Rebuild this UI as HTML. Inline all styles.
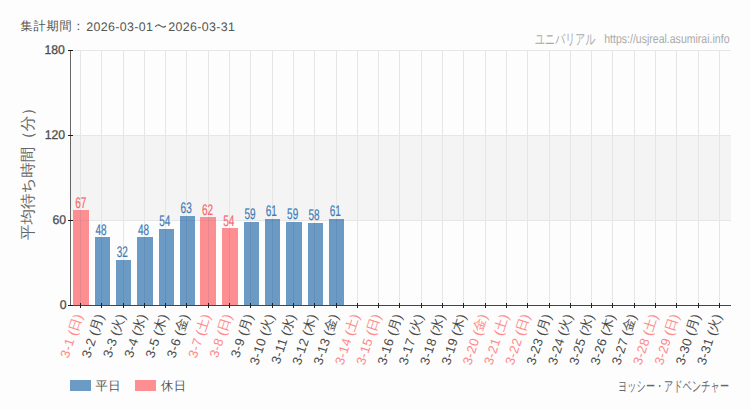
<!DOCTYPE html>
<html lang="ja"><head><meta charset="utf-8"><style>
html,body{margin:0;padding:0;background:#fcfdfc;}
svg{display:block;font-family:"Liberation Sans",sans-serif;text-rendering:geometricPrecision;}
</style></head><body>
<svg width="750" height="410" viewBox="0 0 750 410">
<rect x="0" y="0" width="750" height="410" fill="#fcfdfc"/>
<rect x="71" y="135" width="660" height="85" fill="#f3f4f3"/>
<line x1="73" y1="50.5" x2="731" y2="50.5" stroke="#e6e6e6" stroke-width="1"/>
<line x1="73" y1="135.5" x2="731" y2="135.5" stroke="#e6e6e6" stroke-width="1"/>
<line x1="73" y1="220.5" x2="731" y2="220.5" stroke="#e6e6e6" stroke-width="1"/>
<line x1="80.5" y1="50" x2="80.5" y2="305" stroke="#e6e6e6" stroke-width="1"/>
<line x1="101.5" y1="50" x2="101.5" y2="305" stroke="#e6e6e6" stroke-width="1"/>
<line x1="123.5" y1="50" x2="123.5" y2="305" stroke="#e6e6e6" stroke-width="1"/>
<line x1="144.5" y1="50" x2="144.5" y2="305" stroke="#e6e6e6" stroke-width="1"/>
<line x1="165.5" y1="50" x2="165.5" y2="305" stroke="#e6e6e6" stroke-width="1"/>
<line x1="186.5" y1="50" x2="186.5" y2="305" stroke="#e6e6e6" stroke-width="1"/>
<line x1="208.5" y1="50" x2="208.5" y2="305" stroke="#e6e6e6" stroke-width="1"/>
<line x1="229.5" y1="50" x2="229.5" y2="305" stroke="#e6e6e6" stroke-width="1"/>
<line x1="250.5" y1="50" x2="250.5" y2="305" stroke="#e6e6e6" stroke-width="1"/>
<line x1="272.5" y1="50" x2="272.5" y2="305" stroke="#e6e6e6" stroke-width="1"/>
<line x1="293.5" y1="50" x2="293.5" y2="305" stroke="#e6e6e6" stroke-width="1"/>
<line x1="314.5" y1="50" x2="314.5" y2="305" stroke="#e6e6e6" stroke-width="1"/>
<line x1="336.5" y1="50" x2="336.5" y2="305" stroke="#e6e6e6" stroke-width="1"/>
<line x1="357.5" y1="50" x2="357.5" y2="305" stroke="#e6e6e6" stroke-width="1"/>
<line x1="378.5" y1="50" x2="378.5" y2="305" stroke="#e6e6e6" stroke-width="1"/>
<line x1="399.5" y1="50" x2="399.5" y2="305" stroke="#e6e6e6" stroke-width="1"/>
<line x1="421.5" y1="50" x2="421.5" y2="305" stroke="#e6e6e6" stroke-width="1"/>
<line x1="442.5" y1="50" x2="442.5" y2="305" stroke="#e6e6e6" stroke-width="1"/>
<line x1="463.5" y1="50" x2="463.5" y2="305" stroke="#e6e6e6" stroke-width="1"/>
<line x1="485.5" y1="50" x2="485.5" y2="305" stroke="#e6e6e6" stroke-width="1"/>
<line x1="506.5" y1="50" x2="506.5" y2="305" stroke="#e6e6e6" stroke-width="1"/>
<line x1="527.5" y1="50" x2="527.5" y2="305" stroke="#e6e6e6" stroke-width="1"/>
<line x1="549.5" y1="50" x2="549.5" y2="305" stroke="#e6e6e6" stroke-width="1"/>
<line x1="570.5" y1="50" x2="570.5" y2="305" stroke="#e6e6e6" stroke-width="1"/>
<line x1="591.5" y1="50" x2="591.5" y2="305" stroke="#e6e6e6" stroke-width="1"/>
<line x1="612.5" y1="50" x2="612.5" y2="305" stroke="#e6e6e6" stroke-width="1"/>
<line x1="634.5" y1="50" x2="634.5" y2="305" stroke="#e6e6e6" stroke-width="1"/>
<line x1="655.5" y1="50" x2="655.5" y2="305" stroke="#e6e6e6" stroke-width="1"/>
<line x1="676.5" y1="50" x2="676.5" y2="305" stroke="#e6e6e6" stroke-width="1"/>
<line x1="698.5" y1="50" x2="698.5" y2="305" stroke="#e6e6e6" stroke-width="1"/>
<line x1="719.5" y1="50" x2="719.5" y2="305" stroke="#e6e6e6" stroke-width="1"/>
<rect x="73" y="210.00" width="16" height="95.00" fill="#fd8f93"/>
<rect x="95" y="237.00" width="15" height="68.00" fill="#6b9ac5"/>
<rect x="116" y="260.00" width="15" height="45.00" fill="#6b9ac5"/>
<rect x="137" y="237.00" width="16" height="68.00" fill="#6b9ac5"/>
<rect x="159" y="229.00" width="15" height="76.00" fill="#6b9ac5"/>
<rect x="180" y="216.00" width="15" height="89.00" fill="#6b9ac5"/>
<rect x="200" y="217.00" width="16" height="88.00" fill="#fd8f93"/>
<rect x="222" y="228.00" width="16" height="77.00" fill="#fd8f93"/>
<rect x="244" y="222.00" width="15" height="83.00" fill="#6b9ac5"/>
<rect x="265" y="219.00" width="15" height="86.00" fill="#6b9ac5"/>
<rect x="286" y="222.00" width="16" height="83.00" fill="#6b9ac5"/>
<rect x="308" y="223.00" width="15" height="82.00" fill="#6b9ac5"/>
<rect x="329" y="219.00" width="15" height="86.00" fill="#6b9ac5"/>
<line x1="80.5" y1="210.00" x2="80.5" y2="305" stroke="rgba(0,40,80,0.08)" stroke-width="1"/>
<line x1="73" y1="220.5" x2="89" y2="220.5" stroke="rgba(0,40,80,0.06)" stroke-width="1"/>
<line x1="101.5" y1="237.00" x2="101.5" y2="305" stroke="rgba(0,40,80,0.08)" stroke-width="1"/>
<line x1="123.5" y1="260.00" x2="123.5" y2="305" stroke="rgba(0,40,80,0.08)" stroke-width="1"/>
<line x1="144.5" y1="237.00" x2="144.5" y2="305" stroke="rgba(0,40,80,0.08)" stroke-width="1"/>
<line x1="165.5" y1="229.00" x2="165.5" y2="305" stroke="rgba(0,40,80,0.08)" stroke-width="1"/>
<line x1="186.5" y1="216.00" x2="186.5" y2="305" stroke="rgba(0,40,80,0.08)" stroke-width="1"/>
<line x1="180" y1="220.5" x2="195" y2="220.5" stroke="rgba(0,40,80,0.06)" stroke-width="1"/>
<line x1="208.5" y1="217.00" x2="208.5" y2="305" stroke="rgba(0,40,80,0.08)" stroke-width="1"/>
<line x1="200" y1="220.5" x2="216" y2="220.5" stroke="rgba(0,40,80,0.06)" stroke-width="1"/>
<line x1="229.5" y1="228.00" x2="229.5" y2="305" stroke="rgba(0,40,80,0.08)" stroke-width="1"/>
<line x1="250.5" y1="222.00" x2="250.5" y2="305" stroke="rgba(0,40,80,0.08)" stroke-width="1"/>
<line x1="272.5" y1="219.00" x2="272.5" y2="305" stroke="rgba(0,40,80,0.08)" stroke-width="1"/>
<line x1="265" y1="220.5" x2="280" y2="220.5" stroke="rgba(0,40,80,0.06)" stroke-width="1"/>
<line x1="293.5" y1="222.00" x2="293.5" y2="305" stroke="rgba(0,40,80,0.08)" stroke-width="1"/>
<line x1="314.5" y1="223.00" x2="314.5" y2="305" stroke="rgba(0,40,80,0.08)" stroke-width="1"/>
<line x1="336.5" y1="219.00" x2="336.5" y2="305" stroke="rgba(0,40,80,0.08)" stroke-width="1"/>
<line x1="329" y1="220.5" x2="344" y2="220.5" stroke="rgba(0,40,80,0.06)" stroke-width="1"/>
<line x1="70.5" y1="50" x2="70.5" y2="305" stroke="#666" stroke-width="1"/>
<line x1="70" y1="305.5" x2="731" y2="305.5" stroke="#444" stroke-width="1"/>
<line x1="68" y1="50.5" x2="73" y2="50.5" stroke="#1a1a1a" stroke-width="1"/>
<line x1="68" y1="135.5" x2="73" y2="135.5" stroke="#1a1a1a" stroke-width="1"/>
<line x1="68" y1="220.5" x2="73" y2="220.5" stroke="#1a1a1a" stroke-width="1"/>
<line x1="68" y1="305.5" x2="73" y2="305.5" stroke="#1a1a1a" stroke-width="1"/>
<line x1="80.5" y1="303" x2="80.5" y2="308" stroke="#222" stroke-width="1"/>
<line x1="101.5" y1="303" x2="101.5" y2="308" stroke="#222" stroke-width="1"/>
<line x1="123.5" y1="303" x2="123.5" y2="308" stroke="#222" stroke-width="1"/>
<line x1="144.5" y1="303" x2="144.5" y2="308" stroke="#222" stroke-width="1"/>
<line x1="165.5" y1="303" x2="165.5" y2="308" stroke="#222" stroke-width="1"/>
<line x1="186.5" y1="303" x2="186.5" y2="308" stroke="#222" stroke-width="1"/>
<line x1="208.5" y1="303" x2="208.5" y2="308" stroke="#222" stroke-width="1"/>
<line x1="229.5" y1="303" x2="229.5" y2="308" stroke="#222" stroke-width="1"/>
<line x1="250.5" y1="303" x2="250.5" y2="308" stroke="#222" stroke-width="1"/>
<line x1="272.5" y1="303" x2="272.5" y2="308" stroke="#222" stroke-width="1"/>
<line x1="293.5" y1="303" x2="293.5" y2="308" stroke="#222" stroke-width="1"/>
<line x1="314.5" y1="303" x2="314.5" y2="308" stroke="#222" stroke-width="1"/>
<line x1="336.5" y1="303" x2="336.5" y2="308" stroke="#222" stroke-width="1"/>
<line x1="357.5" y1="303" x2="357.5" y2="308" stroke="#222" stroke-width="1"/>
<line x1="378.5" y1="303" x2="378.5" y2="308" stroke="#222" stroke-width="1"/>
<line x1="399.5" y1="303" x2="399.5" y2="308" stroke="#222" stroke-width="1"/>
<line x1="421.5" y1="303" x2="421.5" y2="308" stroke="#222" stroke-width="1"/>
<line x1="442.5" y1="303" x2="442.5" y2="308" stroke="#222" stroke-width="1"/>
<line x1="463.5" y1="303" x2="463.5" y2="308" stroke="#222" stroke-width="1"/>
<line x1="485.5" y1="303" x2="485.5" y2="308" stroke="#222" stroke-width="1"/>
<line x1="506.5" y1="303" x2="506.5" y2="308" stroke="#222" stroke-width="1"/>
<line x1="527.5" y1="303" x2="527.5" y2="308" stroke="#222" stroke-width="1"/>
<line x1="549.5" y1="303" x2="549.5" y2="308" stroke="#222" stroke-width="1"/>
<line x1="570.5" y1="303" x2="570.5" y2="308" stroke="#222" stroke-width="1"/>
<line x1="591.5" y1="303" x2="591.5" y2="308" stroke="#222" stroke-width="1"/>
<line x1="612.5" y1="303" x2="612.5" y2="308" stroke="#222" stroke-width="1"/>
<line x1="634.5" y1="303" x2="634.5" y2="308" stroke="#222" stroke-width="1"/>
<line x1="655.5" y1="303" x2="655.5" y2="308" stroke="#222" stroke-width="1"/>
<line x1="676.5" y1="303" x2="676.5" y2="308" stroke="#222" stroke-width="1"/>
<line x1="698.5" y1="303" x2="698.5" y2="308" stroke="#222" stroke-width="1"/>
<line x1="719.5" y1="303" x2="719.5" y2="308" stroke="#222" stroke-width="1"/>
<text x="0" y="0" transform="translate(64.9 54.4) scale(0.97 1)" text-anchor="end" font-size="12.6" fill="#4d4d4d" stroke="#4d4d4d" stroke-width="0.3">180</text>
<text x="0" y="0" transform="translate(65.1 139.4) scale(0.97 1)" text-anchor="end" font-size="12.6" fill="#4d4d4d" stroke="#4d4d4d" stroke-width="0.3">120</text>
<text x="0" y="0" transform="translate(66.1 224.4) scale(0.97 1)" text-anchor="end" font-size="12.6" fill="#4d4d4d" stroke="#4d4d4d" stroke-width="0.3">60</text>
<text x="0" y="0" transform="translate(66.5 309.4) scale(0.97 1)" text-anchor="end" font-size="12.6" fill="#4d4d4d" stroke="#4d4d4d" stroke-width="0.3">0</text>
<text x="0" y="0" transform="translate(80.75 207.73) scale(0.65 1)" text-anchor="middle" font-size="15.4" fill="#f7676d" stroke="#f7676d" stroke-width="0.2">67</text>
<text x="0" y="0" transform="translate(100.95 234.65) scale(0.65 1)" text-anchor="middle" font-size="15.4" fill="#3f7ab5" stroke="#3f7ab5" stroke-width="0.2">48</text>
<text x="0" y="0" transform="translate(122.25 257.32) scale(0.65 1)" text-anchor="middle" font-size="15.4" fill="#3f7ab5" stroke="#3f7ab5" stroke-width="0.2">32</text>
<text x="0" y="0" transform="translate(143.55 234.65) scale(0.65 1)" text-anchor="middle" font-size="15.4" fill="#3f7ab5" stroke="#3f7ab5" stroke-width="0.2">48</text>
<text x="0" y="0" transform="translate(164.85 226.15) scale(0.65 1)" text-anchor="middle" font-size="15.4" fill="#3f7ab5" stroke="#3f7ab5" stroke-width="0.2">54</text>
<text x="0" y="0" transform="translate(186.15 213.40) scale(0.65 1)" text-anchor="middle" font-size="15.4" fill="#3f7ab5" stroke="#3f7ab5" stroke-width="0.2">63</text>
<text x="0" y="0" transform="translate(207.45 214.82) scale(0.65 1)" text-anchor="middle" font-size="15.4" fill="#f7676d" stroke="#f7676d" stroke-width="0.2">62</text>
<text x="0" y="0" transform="translate(228.75 226.15) scale(0.65 1)" text-anchor="middle" font-size="15.4" fill="#f7676d" stroke="#f7676d" stroke-width="0.2">54</text>
<text x="0" y="0" transform="translate(250.05 219.07) scale(0.65 1)" text-anchor="middle" font-size="15.4" fill="#3f7ab5" stroke="#3f7ab5" stroke-width="0.2">59</text>
<text x="0" y="0" transform="translate(271.35 216.23) scale(0.65 1)" text-anchor="middle" font-size="15.4" fill="#3f7ab5" stroke="#3f7ab5" stroke-width="0.2">61</text>
<text x="0" y="0" transform="translate(292.65 219.07) scale(0.65 1)" text-anchor="middle" font-size="15.4" fill="#3f7ab5" stroke="#3f7ab5" stroke-width="0.2">59</text>
<text x="0" y="0" transform="translate(313.95 220.48) scale(0.65 1)" text-anchor="middle" font-size="15.4" fill="#3f7ab5" stroke="#3f7ab5" stroke-width="0.2">58</text>
<text x="0" y="0" transform="translate(335.25 216.23) scale(0.65 1)" text-anchor="middle" font-size="15.4" fill="#3f7ab5" stroke="#3f7ab5" stroke-width="0.2">61</text>
<text x="79.65" y="314.9" text-anchor="end" dominant-baseline="middle" font-size="13" fill="#f88" transform="rotate(-72 79.65 314.9)"><tspan letter-spacing="0.3">3-1</tspan> (<tspan font-size="13">日</tspan>)</text>
<text x="100.95" y="314.9" text-anchor="end" dominant-baseline="middle" font-size="13" fill="#4a4a4a" transform="rotate(-72 100.95 314.9)"><tspan letter-spacing="0.3">3-2</tspan> (<tspan font-size="13">月</tspan>)</text>
<text x="122.25" y="314.9" text-anchor="end" dominant-baseline="middle" font-size="13" fill="#4a4a4a" transform="rotate(-72 122.25 314.9)"><tspan letter-spacing="0.3">3-3</tspan> (<tspan font-size="13">火</tspan>)</text>
<text x="143.55" y="314.9" text-anchor="end" dominant-baseline="middle" font-size="13" fill="#4a4a4a" transform="rotate(-72 143.55 314.9)"><tspan letter-spacing="0.3">3-4</tspan> (<tspan font-size="13">水</tspan>)</text>
<text x="164.85" y="314.9" text-anchor="end" dominant-baseline="middle" font-size="13" fill="#4a4a4a" transform="rotate(-72 164.85 314.9)"><tspan letter-spacing="0.3">3-5</tspan> (<tspan font-size="13">木</tspan>)</text>
<text x="186.15" y="314.9" text-anchor="end" dominant-baseline="middle" font-size="13" fill="#4a4a4a" transform="rotate(-72 186.15 314.9)"><tspan letter-spacing="0.3">3-6</tspan> (<tspan font-size="13">金</tspan>)</text>
<text x="207.45" y="314.9" text-anchor="end" dominant-baseline="middle" font-size="13" fill="#f88" transform="rotate(-72 207.45 314.9)"><tspan letter-spacing="0.3">3-7</tspan> (<tspan font-size="13">土</tspan>)</text>
<text x="228.75" y="314.9" text-anchor="end" dominant-baseline="middle" font-size="13" fill="#f88" transform="rotate(-72 228.75 314.9)"><tspan letter-spacing="0.3">3-8</tspan> (<tspan font-size="13">日</tspan>)</text>
<text x="250.05" y="314.9" text-anchor="end" dominant-baseline="middle" font-size="13" fill="#4a4a4a" transform="rotate(-72 250.05 314.9)"><tspan letter-spacing="0.3">3-9</tspan> (<tspan font-size="13">月</tspan>)</text>
<text x="271.35" y="314.9" text-anchor="end" dominant-baseline="middle" font-size="13" fill="#4a4a4a" transform="rotate(-72 271.35 314.9)"><tspan letter-spacing="0.3">3-10</tspan> (<tspan font-size="13">火</tspan>)</text>
<text x="292.65" y="314.9" text-anchor="end" dominant-baseline="middle" font-size="13" fill="#4a4a4a" transform="rotate(-72 292.65 314.9)"><tspan letter-spacing="0.3">3-11</tspan> (<tspan font-size="13">水</tspan>)</text>
<text x="313.95" y="314.9" text-anchor="end" dominant-baseline="middle" font-size="13" fill="#4a4a4a" transform="rotate(-72 313.95 314.9)"><tspan letter-spacing="0.3">3-12</tspan> (<tspan font-size="13">木</tspan>)</text>
<text x="335.25" y="314.9" text-anchor="end" dominant-baseline="middle" font-size="13" fill="#4a4a4a" transform="rotate(-72 335.25 314.9)"><tspan letter-spacing="0.3">3-13</tspan> (<tspan font-size="13">金</tspan>)</text>
<text x="356.55" y="314.9" text-anchor="end" dominant-baseline="middle" font-size="13" fill="#f88" transform="rotate(-72 356.55 314.9)"><tspan letter-spacing="0.3">3-14</tspan> (<tspan font-size="13">土</tspan>)</text>
<text x="377.85" y="314.9" text-anchor="end" dominant-baseline="middle" font-size="13" fill="#f88" transform="rotate(-72 377.85 314.9)"><tspan letter-spacing="0.3">3-15</tspan> (<tspan font-size="13">日</tspan>)</text>
<text x="399.15" y="314.9" text-anchor="end" dominant-baseline="middle" font-size="13" fill="#4a4a4a" transform="rotate(-72 399.15 314.9)"><tspan letter-spacing="0.3">3-16</tspan> (<tspan font-size="13">月</tspan>)</text>
<text x="420.45" y="314.9" text-anchor="end" dominant-baseline="middle" font-size="13" fill="#4a4a4a" transform="rotate(-72 420.45 314.9)"><tspan letter-spacing="0.3">3-17</tspan> (<tspan font-size="13">火</tspan>)</text>
<text x="441.75" y="314.9" text-anchor="end" dominant-baseline="middle" font-size="13" fill="#4a4a4a" transform="rotate(-72 441.75 314.9)"><tspan letter-spacing="0.3">3-18</tspan> (<tspan font-size="13">水</tspan>)</text>
<text x="463.05" y="314.9" text-anchor="end" dominant-baseline="middle" font-size="13" fill="#4a4a4a" transform="rotate(-72 463.05 314.9)"><tspan letter-spacing="0.3">3-19</tspan> (<tspan font-size="13">木</tspan>)</text>
<text x="484.35" y="314.9" text-anchor="end" dominant-baseline="middle" font-size="13" fill="#f88" transform="rotate(-72 484.35 314.9)"><tspan letter-spacing="0.3">3-20</tspan> (<tspan font-size="13">金</tspan>)</text>
<text x="505.65" y="314.9" text-anchor="end" dominant-baseline="middle" font-size="13" fill="#f88" transform="rotate(-72 505.65 314.9)"><tspan letter-spacing="0.3">3-21</tspan> (<tspan font-size="13">土</tspan>)</text>
<text x="526.95" y="314.9" text-anchor="end" dominant-baseline="middle" font-size="13" fill="#f88" transform="rotate(-72 526.95 314.9)"><tspan letter-spacing="0.3">3-22</tspan> (<tspan font-size="13">日</tspan>)</text>
<text x="548.25" y="314.9" text-anchor="end" dominant-baseline="middle" font-size="13" fill="#4a4a4a" transform="rotate(-72 548.25 314.9)"><tspan letter-spacing="0.3">3-23</tspan> (<tspan font-size="13">月</tspan>)</text>
<text x="569.55" y="314.9" text-anchor="end" dominant-baseline="middle" font-size="13" fill="#4a4a4a" transform="rotate(-72 569.55 314.9)"><tspan letter-spacing="0.3">3-24</tspan> (<tspan font-size="13">火</tspan>)</text>
<text x="590.85" y="314.9" text-anchor="end" dominant-baseline="middle" font-size="13" fill="#4a4a4a" transform="rotate(-72 590.85 314.9)"><tspan letter-spacing="0.3">3-25</tspan> (<tspan font-size="13">水</tspan>)</text>
<text x="612.15" y="314.9" text-anchor="end" dominant-baseline="middle" font-size="13" fill="#4a4a4a" transform="rotate(-72 612.15 314.9)"><tspan letter-spacing="0.3">3-26</tspan> (<tspan font-size="13">木</tspan>)</text>
<text x="633.45" y="314.9" text-anchor="end" dominant-baseline="middle" font-size="13" fill="#4a4a4a" transform="rotate(-72 633.45 314.9)"><tspan letter-spacing="0.3">3-27</tspan> (<tspan font-size="13">金</tspan>)</text>
<text x="654.75" y="314.9" text-anchor="end" dominant-baseline="middle" font-size="13" fill="#f88" transform="rotate(-72 654.75 314.9)"><tspan letter-spacing="0.3">3-28</tspan> (<tspan font-size="13">土</tspan>)</text>
<text x="676.05" y="314.9" text-anchor="end" dominant-baseline="middle" font-size="13" fill="#f88" transform="rotate(-72 676.05 314.9)"><tspan letter-spacing="0.3">3-29</tspan> (<tspan font-size="13">日</tspan>)</text>
<text x="697.35" y="314.9" text-anchor="end" dominant-baseline="middle" font-size="13" fill="#4a4a4a" transform="rotate(-72 697.35 314.9)"><tspan letter-spacing="0.3">3-30</tspan> (<tspan font-size="13">月</tspan>)</text>
<text x="718.65" y="314.9" text-anchor="end" dominant-baseline="middle" font-size="13" fill="#4a4a4a" transform="rotate(-72 718.65 314.9)"><tspan letter-spacing="0.3">3-31</tspan> (<tspan font-size="13">火</tspan>)</text>
<text x="20.6" y="30.3" font-size="12.2" letter-spacing="0.75" fill="#555">集計期間：</text>
<text x="86.2" y="30.9" font-size="12.4" fill="#555" textLength="66.6" lengthAdjust="spacing">2026-03-01</text>
<path d="M155.2 26.9 C 156.8 24.6 158.6 24.4 160.5 25.9 S 164.2 27.9 165.8 25.9" fill="none" stroke="#555" stroke-width="1.15"/>
<text x="168.2" y="30.9" font-size="12.4" fill="#555" textLength="66.8" lengthAdjust="spacing">2026-03-31</text>
<text x="535" y="44" font-size="14.5" fill="#aaa" textLength="60.5" lengthAdjust="spacingAndGlyphs">ユニバリアル</text>
<text x="604.2" y="43.2" font-size="12.6" fill="#aaa" textLength="125.3" lengthAdjust="spacingAndGlyphs">https://usjreal.asumirai.info</text>
<text x="0" y="0" font-size="15.5" fill="#666" transform="translate(32.7 240) rotate(-90)">平均待ち時間（分）</text>
<rect x="70" y="380" width="21" height="11" fill="#6b9ac5"/>
<text x="95.5" y="389.8" font-size="12.3" fill="#555" letter-spacing="0.5">平日</text>
<rect x="135" y="380" width="21" height="11" fill="#fd8f93"/>
<text x="161" y="389.8" font-size="12.3" fill="#555" letter-spacing="0.5">休日</text>
<text x="618" y="390.6" font-size="14.3" fill="#666" textLength="111" lengthAdjust="spacingAndGlyphs">ヨッシー・アドベンチャー</text>
</svg></body></html>
